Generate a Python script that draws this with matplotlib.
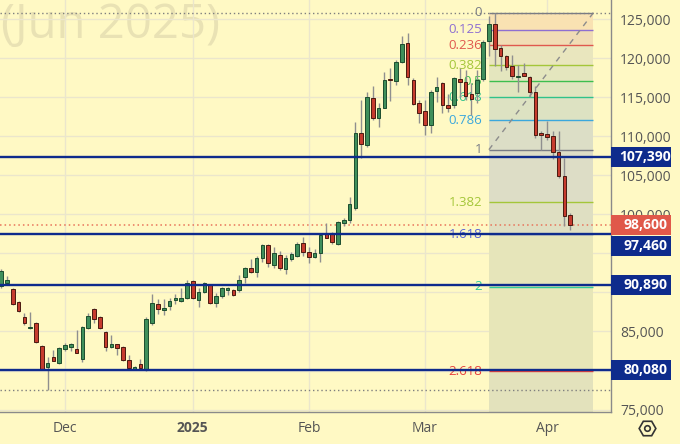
import matplotlib
matplotlib.use("Agg")
import matplotlib.pyplot as plt
import matplotlib.transforms as mtrans
from matplotlib.patches import Rectangle
from matplotlib.lines import Line2D
from matplotlib.ticker import FuncFormatter
import numpy as np

# daily candles (one per trading day, Nov 2024 -> Apr 2025)
opens = [90820, 91250, 90400, 88780, 86890, 85410, 86050, 83180, 80490, 81730,
         81000, 82720, 83050, 82720, 81440, 85410, 87840, 86820, 84970, 82970,
         83360, 82970, 81350, 80200, 80840, 80070, 86050, 88520, 87750, 88260,
         89030, 88900, 89250, 91460, 89030, 90090, 90950, 88610, 89580, 90250,
         90310, 90310, 91940, 93090, 92650, 94370, 96030, 93510, 94790, 92960,
         94320, 94670, 96290, 95140, 94580, 95090, 97480, 97440, 96200, 98830,
         99280, 100770, 110450, 108880, 114860, 112370, 113660, 117330, 117070, 119470,
         121900, 117200, 114220, 113270, 111440, 115830, 116780, 114000, 114000, 117330,
         116980, 115410, 115600, 117270, 122160, 124410, 121300, 120240, 118960, 117630,
         118100, 117550, 115630, 110380, 110290, 110030, 107990, 104870, 99950]
highs = [93000, 92100, 90570, 88940, 87370, 87530, 86210, 83300, 81770, 82630,
         83000, 83560, 83560, 85190, 85750, 87400, 88010, 87000, 85100, 84550,
         83450, 83100, 82000, 80550, 81440, 86890, 89760, 89120, 89120, 89330,
         89760, 90530, 91590, 91590, 90530, 91300, 91100, 89890, 90740, 90740,
         90500, 92230, 93300, 94240, 94670, 96200, 96150, 95860, 95310, 94790,
         95220, 96500, 97060, 95860, 95560, 97570, 98850, 97780, 99150, 99530,
         102260, 111860, 114640, 115700, 116430, 114220, 118270, 118700, 119760, 122840,
         123180, 117460, 114640, 114640, 115920, 117630, 116980, 115400, 117630, 118700,
         118520, 116820, 118520, 122300, 125360, 125820, 121720, 120440, 120440, 119160,
         119380, 117680, 116400, 110630, 111910, 110630, 110710, 107210, 100170]
lows = [90570, 90950, 88390, 87460, 85830, 85350, 83520, 80080, 77510, 81200,
        80840, 82540, 82540, 82200, 81090, 85300, 86120, 85300, 82540, 82850,
        82000, 81200, 80290, 80100, 80290, 80000, 85830, 87200, 87110, 87750,
        88480, 88810, 89120, 89100, 88170, 89890, 88480, 88170, 89330, 89670,
        89500, 90090, 91170, 92550, 92020, 93940, 93300, 93090, 92870, 92360,
        94060, 94570, 94670, 93810, 94450, 93940, 96930, 96200, 96070, 98500,
        98850, 100550, 107180, 108660, 112080, 111150, 113580, 114550, 116560, 119340,
        116560, 114000, 111660, 110160, 110380, 114420, 112940, 113100, 113580, 115060,
        114680, 112760, 114250, 117100, 120240, 118960, 118320, 118520, 117370, 115630,
        117680, 114990, 109780, 108280, 109560, 107120, 104650, 98470, 98050]
closes = [92740, 91590, 88520, 87620, 86050, 85610, 83620, 80160, 80930, 81260,
          82880, 83270, 83400, 82280, 85610, 87020, 86560, 85410, 82970, 83400,
          82920, 81310, 80360, 80450, 80360, 86560, 88690, 87840, 88050, 88940,
          89250, 89250, 91170, 89250, 90020, 91170, 88690, 89580, 90530, 90530,
          89670, 91590, 93090, 92650, 94450, 96070, 93810, 95010, 93090, 94450,
          94920, 96200, 95220, 94580, 95090, 97350, 97010, 96460, 99060, 99280,
          101320, 110380, 109010, 115060, 112300, 113580, 117200, 117200, 119550, 121770,
          117630, 114130, 113010, 111440, 115700, 116340, 114000, 113580, 117420, 116980,
          115090, 114770, 117200, 122130, 124370, 121170, 120310, 118830, 117680, 117750,
          117750, 115630, 110120, 110200, 109860, 107990, 104870, 99750, 98600]

month_pos = [11, 33, 53, 73, 94]
month_labels = ["Dec", "2025", "Feb", "Mar", "Apr"]
price_ticks = list(range(75000, 125001, 5000))
hidden_ticks = [80000, 90000, 95000]  # covered by the price tags

level_lines = [107390, 97460, 90890, 80080]
last_price = 98600

# fib extension drawn from the swing high to the swing low
fib_high = 125820
fib_low = 108280
fib_start, fib_end = 84, 102
fib_levels = [0, 0.125, 0.236, 0.382, 0.5, 0.618, 0.786, 1, 1.382, 1.618, 2, 2.618]
fib_labels = ["0", "0.125", "0.236", "0.382", "0.5", "0.618", "0.786", "1",
              "1.382", "1.618", "2", "2.618"]
fib_colors = ["#787b86", "#8e6fd1", "#e0584e", "#a4c639", "#3dbe4e", "#2fc28a",
              "#3ba7dc", "#787b86", "#a4c639", "#5561d6", "#2fcb9a", "#e8403a"]
band_colors = ["#f9e2b2", "#f1ddb5", "#e9e6be", "#e4e6be", "#e0e5bf", "#dde2c2",
               "#dcdec6", "#ddddc6", "#dfdfc2", "#e6e5ba", "#e7e6b8", "#e3e2bc"]

BG = "#fff9c4"
plt.rcParams["font.family"] = ["Open Sans", "DejaVu Sans"]

W, H = 680, 444
ax_w, ax_h, ax_b = 610.5, 411.5, 32.5
ymin, ymax = 74754, 127446

fig = plt.figure(figsize=(W / 100, H / 100), dpi=100)
fig.patch.set_facecolor(BG)
ax = fig.add_axes([0, ax_b / H, ax_w / W, ax_h / H])
ax.set_facecolor(BG)
ax.set_xlim(-0.19, 104.94)
ax.set_ylim(ymin, ymax)
ax.set_axisbelow(True)
ax.grid(color="#ebe6cc", lw=1)

# watermark
ax.text(1 / W, 1 - 38.3 / H, "(Jun 2025)", transform=fig.transFigure,
        fontsize=34, color="#e9e2b4", ha="left", va="baseline", zorder=0.2)

# fib extension box
prices = [fib_high - lv * (fib_high - fib_low) for lv in fib_levels]
bounds = prices + [ymin]
for k in range(len(prices)):
    ax.fill_between([fib_start, fib_end], bounds[k], bounds[k + 1],
                    color=band_colors[k], lw=0, zorder=1)
for p, lab, c in zip(prices, fib_labels, fib_colors):
    ax.hlines(p, fib_start, fib_end, color=c, lw=1, zorder=1.5)
    ax.annotate(lab, xy=(fib_start, p), xytext=(-5, 0), textcoords="offset points",
                ha="right", va="center", color=c, fontsize=9.5, zorder=1.6)
ax.plot([fib_start, fib_end], [fib_low, fib_high], ls=(0, (4, 4)),
        color="#8c8c8c", lw=1, zorder=1.7)

# high / low / last price lines
ax.axhline(max(highs), ls=(0, (1, 2)), color="#7f7f7f", lw=1, zorder=2)
ax.axhline(min(lows), ls=(0, (1, 2)), color="#7f7f7f", lw=1, zorder=2)
ax.axhline(last_price, ls=(0, (1, 2)), color="#e8735a", lw=1.1, zorder=2)

# candles
o = np.array(opens)
c = np.array(closes)
x = np.arange(len(o))
up = c >= o
ax.vlines(x, lows, highs, color="#8f8f8f", lw=1, zorder=3)
body = np.maximum(np.abs(c - o), 80)
ax.bar(x, body, bottom=np.minimum(o, c), width=0.62,
       color=np.where(up, "#3f8f5b", "#c63b2e"),
       edgecolor=np.where(up, "#1c4d2e", "#4a1a10"), lw=0.7, zorder=4)

for v in level_lines:
    ax.axhline(v, color="#0e2b8c", lw=1.7, zorder=5)

# axes
for s in ["top", "left"]:
    ax.spines[s].set_visible(False)
for s in ["right", "bottom"]:
    ax.spines[s].set_color("#8a8a8a")
    ax.spines[s].set_linewidth(1)
ax.yaxis.tick_right()
ax.set_yticks(price_ticks)
ax.yaxis.set_major_formatter(
    FuncFormatter(lambda v, _: "" if int(v) in hidden_ticks else f"{int(v):,}"))
ax.tick_params(axis="y", length=0, pad=7, labelsize=10, labelcolor="#555555")
ax.set_xticks(month_pos, month_labels)
ax.tick_params(axis="x", length=0, pad=7, labelsize=10, labelcolor="#555555")
ax.get_xticklabels()[1].set_fontweight("bold")

# price labels on the right scale
upp = (ymax - ymin) / ax_h
tr = mtrans.blended_transform_factory(fig.transFigure, ax.transData)
tags = [(107390, "#0e2b8c", 0), (last_price, "#e0584a", 0), (97460, "#0e2b8c", 11.7),
        (90890, "#0e2b8c", 0), (80080, "#0e2b8c", 0)]
for v, col, shift in tags:
    cy = v - shift * upp
    ax.add_patch(Rectangle((611 / W, cy - 10 * upp), 60 / W, 20 * upp, transform=tr,
                           facecolor=col, edgecolor="none", clip_on=False, zorder=10))
    ax.text(645 / W, cy, f"{v:,}", transform=tr, ha="center", va="center",
            color="white", fontsize=10, fontweight="bold", zorder=11, clip_on=False)

# settings icon
fig.add_artist(Line2D([647 / W], [1 - 428 / H], marker="H", markersize=12,
                      mfc="none", mec="#333333", mew=1.2, transform=fig.transFigure))
fig.add_artist(Line2D([647 / W], [1 - 428 / H], marker="o", markersize=4,
                      mfc="none", mec="#333333", mew=1.2, transform=fig.transFigure))

fig.savefig("out.png", dpi=100, facecolor=BG)
